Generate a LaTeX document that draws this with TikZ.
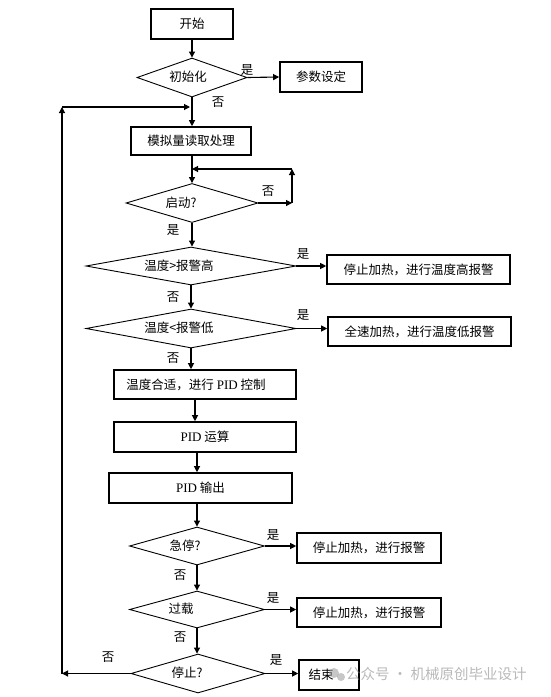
\documentclass[tikz,border=0pt]{standalone}
\usepackage{fontspec}
\setmainfont{Noto Sans CJK SC}
\newfontfamily\pidfont{Liberation Serif}
\usetikzlibrary{shapes.geometric,arrows.meta}
\tikzset{
  txt/.style={font=\fontsize{12.5pt}{15pt}\selectfont, inner sep=0pt},
  box/.style={draw, line width=1.6pt, inner sep=0pt, font=\fontsize{12.5pt}{15pt}\selectfont},
  dia/.style={draw, diamond, line width=0.9pt, inner sep=0pt},
  arr/.style={-{Triangle[length=6pt,width=6pt]}, line width=1.1pt},
  ln/.style={line width=1.1pt},
  yn/.style={font=\fontsize{12.5pt}{15pt}\selectfont, inner sep=0pt},
}
\newcommand{\PIDt}{{\pidfont\fontsize{13pt}{15pt}\selectfont PID}}
\begin{document}
\begin{tikzpicture}[x=1pt,y=-1pt]
\useasboundingbox (0,0) rectangle (551,697);
\fill[white] (0,0) rectangle (551,697);

% nodes
\node[box, minimum width=82pt, minimum height=30pt] (start) at (192,24) {开始};
\node[dia, minimum width=110pt, minimum height=39pt] (d0) at (192,77.5) {};
\node[txt] (d0t) at (188,77) {初始化};
\node[box, minimum width=82pt, minimum height=30pt] (param) at (321,77) {参数设定};
\node[box, minimum width=120pt, minimum height=28pt] (read) at (191,141) {模拟量读取处理};
\node[dia, minimum width=132pt, minimum height=39pt] (d1) at (192,203) {};
\node[txt] (d1t) at (181,203) {启动?};
\node[dia, minimum width=210pt, minimum height=38pt] (d2) at (191,266) {};
\node[txt] (d2t) at (179,266) {温度>报警高};
\node[box, minimum width=183pt, minimum height=29pt] (hi) at (418.5,269.5) {停止加热，进行温度高报警};
\node[dia, minimum width=210pt, minimum height=39pt] (d3) at (191,328.5) {};
\node[txt] (d3t) at (179,328) {温度<报警低};
\node[box, minimum width=183pt, minimum height=29pt] (lo) at (419.5,331.5) {全速加热，进行温度低报警};
\node[box, minimum width=182pt, minimum height=29pt] (ok) at (205,384.5) {};
\node[txt] (okt) at (196,384.5) {温度合适，进行 \PIDt{} 控制};
\node[box, minimum width=182pt, minimum height=30pt] (pid) at (205,437) {\PIDt{} 运算};
\node[box, minimum width=183pt, minimum height=30pt] (out) at (200.5,488) {\PIDt{} 输出};
\node[dia, minimum width=135pt, minimum height=38pt] (d4) at (197,546) {};
\node[txt] (d4t) at (185,546) {急停?};
\node[box, minimum width=144pt, minimum height=30pt] (al1) at (369,548) {停止加热，进行报警};
\node[dia, minimum width=135pt, minimum height=37pt] (d5) at (197,609.5) {};
\node[txt] (d5t) at (181,609) {过载};
\node[box, minimum width=144pt, minimum height=29pt] (al2) at (369,612.5) {停止加热，进行报警};
\node[dia, minimum width=134pt, minimum height=39pt] (d6) at (198,673.5) {};
\node[txt] (d6t) at (187,673) {停止?};
\node[box, minimum width=60pt, minimum height=30pt] (end) at (329,675) {};
\node[txt] (endt) at (321,675) {结束};

% connectors
\draw[arr] (start) -- (d0);
\draw[arr] (d0.east) -- (param.west);
\node[yn] (y0) at (247,70) {是};
\draw[arr] (d0.south) -- (d0.south |- read.north);
\node[yn] (n0) at (218,102) {否};
\draw[arr] (read.south -| d1.north) -- (d1.north);

% start loop
\coordinate (s1) at (292,203);
\coordinate (s2) at (292,169);
\coordinate (s3) at (192,169);
\draw[arr] (d1.east) -- (s1);
\draw[arr] (s1) -- (s2);
\draw[arr] (s2) -- (s3);
\node[yn] (n1) at (268,191) {否};

\draw[arr] (d1.south) -- (d1.south |- d2.north);
\node[yn] (y1) at (173,230) {是};
\draw[arr] (d2.east) -- (d2.east -| hi.west);
\node[yn] (y2) at (303,254) {是};
\draw[arr] (d2.south) -- (d2.south |- d3.north);
\node[yn] (n2) at (173,297) {否};
\draw[arr] (d3.east) -- (d3.east -| lo.west);
\node[yn] (y3) at (303,315) {是};
\draw[arr] (d3.south) -- (d3.south |- ok.north);
\node[yn] (n3) at (173,358) {否};
\draw[arr] ([xshift=-10pt]ok.south) -- ([xshift=-10pt]ok.south |- pid.north);
\draw[arr] ([xshift=-8pt]pid.south) -- ([xshift=-8pt]pid.south |- out.north);
\draw[arr] (d4.north |- out.south) -- (d4.north);
\draw[arr] (d4.east) -- (d4.east -| al1.west);
\node[yn] (y4) at (273,535) {是};
\draw[arr] (d4.south) -- (d5.north);
\node[yn] (n4) at (180,575) {否};
\draw[arr] (d5.east) -- (d5.east -| al2.west);
\node[yn] (y5) at (273,598) {是};
\draw[arr] (d5.south) -- (d5.south |- d6.north);
\node[yn] (n5) at (180,637) {否};
\draw[arr] (d6.east) -- (d6.east -| end.west);
\node[yn] (y6) at (276,660) {是};

% main loop back
\coordinate (l1) at (62,673.5);
\coordinate (l2) at (62,107);
\coordinate (l3) at (190,107);
\draw[arr] (d6.west) -- (l1);
\draw[arr] (l1) -- (l2);
\draw[arr] (l2) -- (l3);
\node[yn] (n6) at (108,657) {否};

% watermark
\begin{scope}[opacity=0.55]
\fill[gray!80] (334,673) circle (5pt);
\fill[gray!80] (341,677) circle (4pt);
\node[anchor=west, text=gray, font=\fontsize{14.5pt}{16pt}\selectfont, inner sep=0pt] (wm) at (346,674) {公众号 · 机械原创毕业设计};
\end{scope}
\end{tikzpicture}
\end{document}
